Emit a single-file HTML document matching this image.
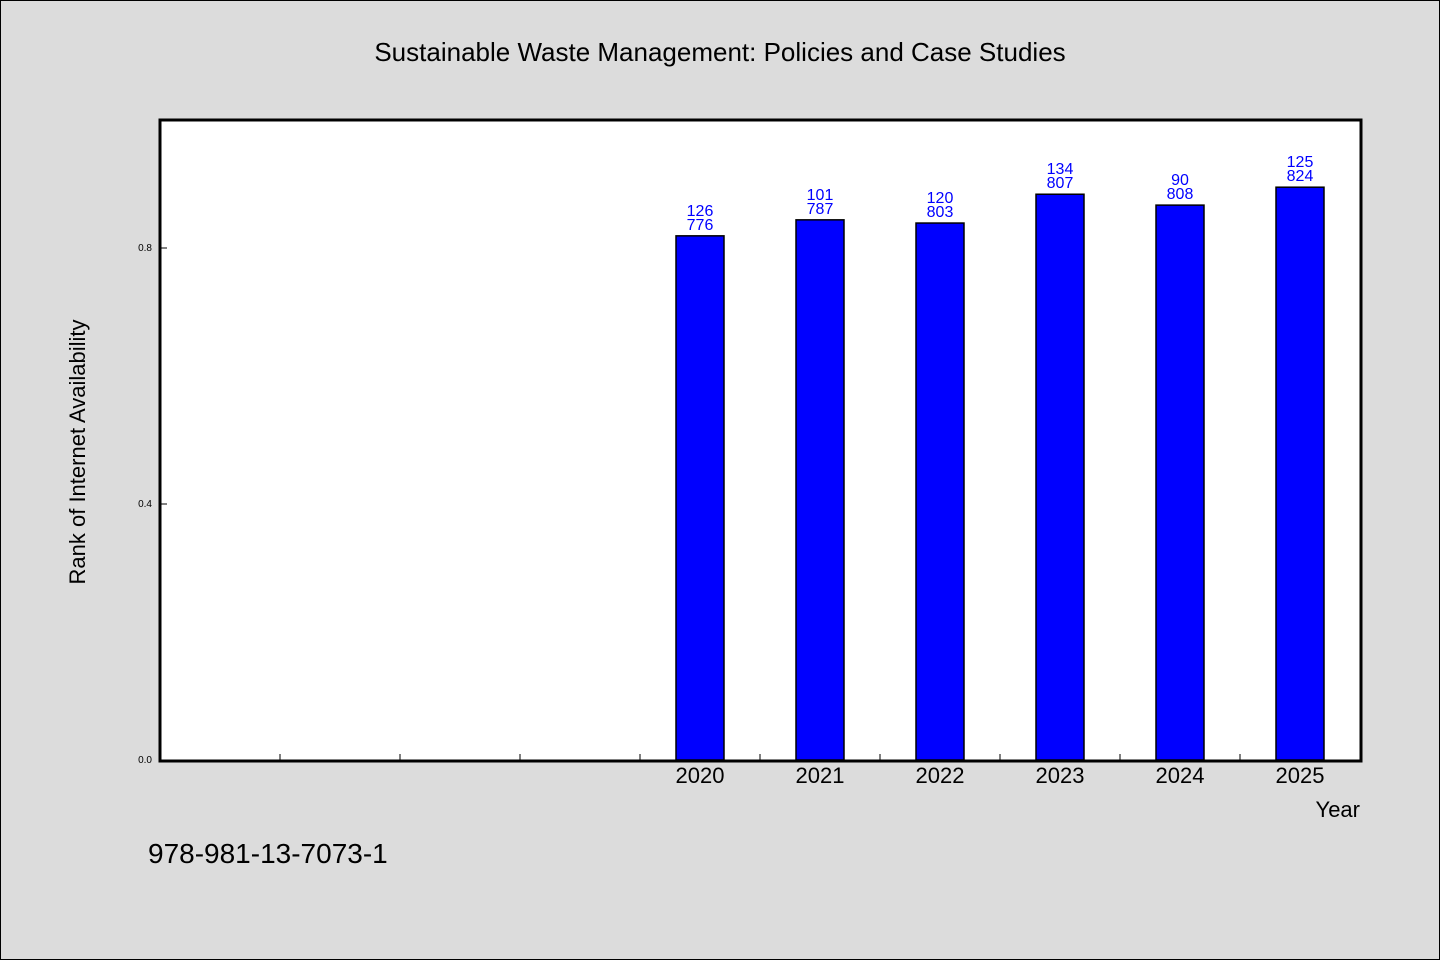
<!DOCTYPE html>
<html><head><meta charset="utf-8"><style>
body{margin:0;background:#dcdcdc;}
svg{display:block;font-family:"WenQuanYi Zen Hei","Liberation Sans",sans-serif;}
</style></head><body>
<svg width="1440" height="960">
<rect x="0.5" y="0.5" width="1439" height="959" fill="#dcdcdc" stroke="#000"/>
<text x="720" y="61" text-anchor="middle" font-size="26">Sustainable Waste Management: Policies and Case Studies</text>
<rect x="160" y="120" width="1201" height="641" fill="#fff"/>
<g id="marks"></g>
<rect x="160" y="120" width="1201" height="641" fill="none" stroke="#000" stroke-width="3"/>
<text transform="translate(85,452) rotate(-90)" text-anchor="middle" font-size="22">Rank of Internet Availability</text>
<text x="1360" y="817" text-anchor="end" font-size="22">Year</text>
<text x="148" y="863" font-size="28">978-981-13-7073-1</text>
</svg>
<script>
const categories=["","","","","2020","2021","2022","2023","2024","2025"];
const values=[null,null,null,null,0.819,0.844,0.839,0.884,0.867,0.895];
const topLabels=["","","","","126","101","120","134","90","125"];
const bottomLabels=["","","","","776","787","803","807","808","824"];
const yTicks=[0,0.4,0.8];
const yTickLabels=["0.0","0.4","0.8"];
const NS="http://www.w3.org/2000/svg";
const g=document.getElementById('marks');
const x0=160,slot=120,y0=760,yScale=640;
const xc=i=>x0+slot*i+slot/2;
const y=v=>y0-v*yScale;
function mk(t,a){const e=document.createElementNS(NS,t);for(const k in a)e.setAttribute(k,a[k]);g.appendChild(e);return e;}
yTicks.forEach((v,i)=>{
 const l=mk('line',{x1:160,x2:167,y1:y(v),y2:y(v),stroke:'#000'});
 
 
 const t=mk('text',{x:152,y:y(v)+3,'text-anchor':'end','font-size':10,'font-family':'Liberation Sans'});
 t.textContent=yTickLabels[i];
 
 
});
for(let i=1;i<categories.length;i++){
 const l=mk('line',{x1:x0+slot*i,x2:x0+slot*i,y1:760,y2:754,stroke:'#000'});
 
 
}
categories.forEach((c,i)=>{
 if(c){const t=mk('text',{x:xc(i),y:783,'text-anchor':'middle','font-size':22});
 t.textContent=c;
 
 }
 const v=values[i];
 if(v==null)return;
 const r=mk('rect',{x:xc(i)-24,y:y(v),width:48,height:y0-y(v),fill:'#0000ff',stroke:'#000','stroke-width':1.5});
 
 
 const t1=mk('text',{x:xc(i),y:y(v)-20,'text-anchor':'middle','font-size':16,fill:'#0000ff'});
 t1.textContent=topLabels[i];
 
 
 const t2=mk('text',{x:xc(i),y:y(v)-6,'text-anchor':'middle','font-size':16,fill:'#0000ff'});
 t2.textContent=bottomLabels[i];
 
 
});
</script>
</body></html>
